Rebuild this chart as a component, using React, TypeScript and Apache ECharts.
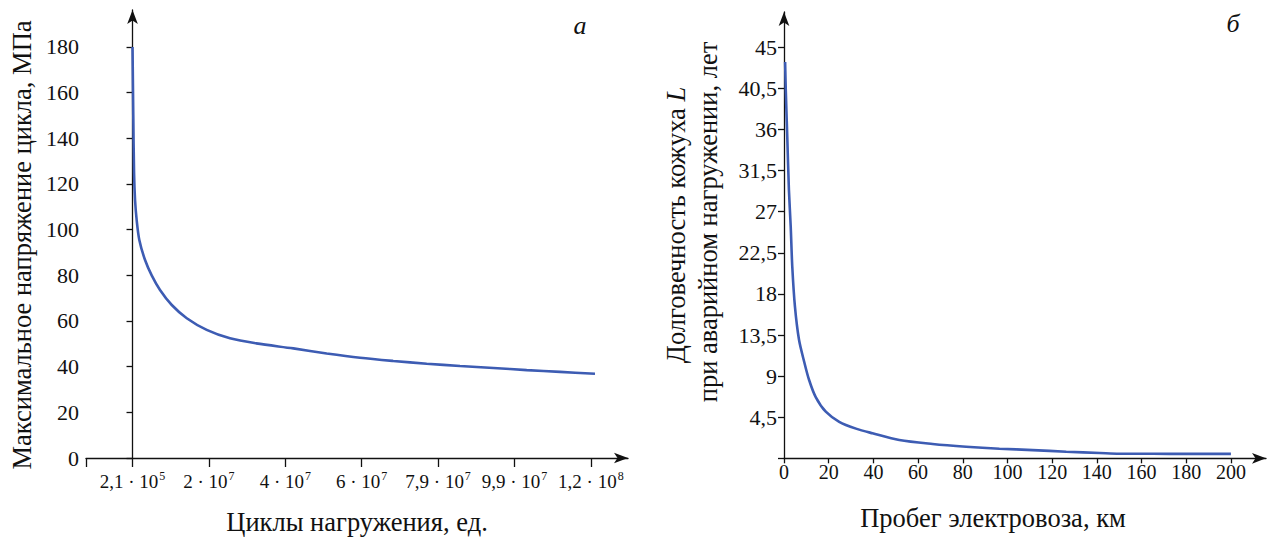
import React, { useEffect, useRef } from 'react';
import * as echarts from 'echarts';

// ---- Chart a: stress vs loading cycles (evenly spaced category positions) ----
const cyclePos = [0, 1, 2, 3, 4, 5, 6];
const cycleMantissa = ['2,1', '2', '4', '6', '7,9', '9,9', '1,2'];
const cycleExp = ['5', '7', '7', '7', '7', '7', '8'];
const stressPos = [0, 0.01, 0.02, 0.033, 0.055, 0.089, 0.164, 0.251, 0.36, 0.514, 0.71, 0.971, 1.276, 1.62, 2.105, 2.542, 2.978, 3.414, 3.851, 4.287, 4.724, 5.16, 5.596, 6.054];
const stressMPa = [180, 150, 125, 113, 104, 95.5, 86.7, 80, 73.6, 67, 61.2, 56.1, 52.4, 50.2, 48.0, 45.8, 43.9, 42.5, 41.3, 40.3, 39.4, 38.5, 37.7, 36.9];
const stressTicks = [0, 20, 40, 60, 80, 100, 120, 140, 160, 180];

// ---- Chart б: casing life vs locomotive mileage ----
const mileageKm = [0.5, 0.8, 1.5, 2.2, 3.0, 3.7, 4.9, 6.7, 9.0, 11.2, 14.2, 18.7, 24.7, 32.2, 39.6, 51.6, 66.5, 81.5, 96.4, 111.3, 126.3, 141.3, 150, 165, 180, 200];
const lifeYears = [43.4, 40.3, 34.9, 29.4, 25.4, 21.0, 16.6, 13.0, 10.6, 8.6, 6.7, 5.1, 4.0, 3.25, 2.74, 2.0, 1.57, 1.27, 1.05, 0.9, 0.72, 0.58, 0.5, 0.5, 0.48, 0.48];
const lifeTicks = [4.5, 9, 13.5, 18, 22.5, 27, 31.5, 36, 40.5, 45];
const mileageTicks = [0, 20, 40, 60, 80, 100, 120, 140, 160, 180, 200];

const FONT = 'Liberation Serif, serif';
const INK = '#111111';
const LINE = '#3d5cb3';

export default function App() {
  const ref = useRef<HTMLDivElement>(null);

  useEffect(() => {
    if (!ref.current) return;
    const chart = echarts.init(ref.current, undefined, { renderer: 'svg' });

    const axisLineStyle = { color: INK, width: 1.3 };
    const txt = (size: number, italic = false) => ({
      fontFamily: FONT, fontSize: size, fontStyle: italic ? 'italic' : 'normal', fill: INK,
      align: 'center', verticalAlign: 'middle',
    });

    const option: any = {
      animation: false,
      backgroundColor: '#ffffff',
      textStyle: { fontFamily: FONT },
      grid: [
        { left: 86, top: 10, width: 542, height: 448, containLabel: false },
        { left: 784, top: 12, width: 482, height: 446.3, containLabel: false },
      ],
      xAxis: [
        {
          type: 'value',
          gridIndex: 0,
          min: -0.609,
          max: 6.486,
          splitLine: { show: false },
          axisLine: { show: true, symbol: ['none', 'arrow'], symbolSize: [8, 14], lineStyle: axisLineStyle },
          axisTick: { show: true, inside: false, length: 9, lineStyle: { color: INK, width: 1.3 }, customValues: [-0.609, ...cyclePos] },
          axisLabel: {
            margin: 12,
            customValues: cyclePos,
            formatter: (v: number) => {
              const i = cyclePos.indexOf(Math.round(v));
              if (i < 0) return '';
              return `{m|${cycleMantissa[i]} · 10}{e|${cycleExp[i]}}`;
            },
            rich: {
              m: { fontFamily: FONT, fontSize: 19, color: INK, lineHeight: 22, verticalAlign: 'middle' },
              e: { fontFamily: FONT, fontSize: 12, color: INK, lineHeight: 12, verticalAlign: 'top', padding: [0, 0, 0, 1] },
            },
          },
        },
        {
          type: 'value',
          gridIndex: 1,
          min: 0,
          max: 215.7,
          splitLine: { show: false },
          axisLine: { show: true, symbol: ['none', 'arrow'], symbolSize: [8, 14], lineStyle: axisLineStyle },
          axisTick: { show: true, length: 5, lineStyle: { color: INK, width: 1.3 }, customValues: mileageTicks },
          axisLabel: {
            margin: 4,
            customValues: mileageTicks,
            fontFamily: FONT,
            fontSize: 20,
            color: INK,
            formatter: (v: number) => String(v),
          },
        },
      ],
      yAxis: [
        {
          type: 'value',
          gridIndex: 0,
          min: 0,
          max: 196.2,
          splitLine: { show: false },
          axisLine: { show: true, symbol: ['none', 'arrow'], symbolSize: [8, 14], lineStyle: axisLineStyle },
          axisTick: { show: true, length: 6, lineStyle: { color: INK, width: 1.3 }, customValues: stressTicks },
          axisLabel: {
            margin: 7,
            customValues: stressTicks,
            fontFamily: FONT,
            fontSize: 22,
            color: INK,
            formatter: (v: number) => String(v),
          },
        },
        {
          type: 'value',
          gridIndex: 1,
          min: 0,
          max: 48.87,
          splitLine: { show: false },
          axisLine: { show: true, symbol: ['none', 'arrow'], symbolSize: [8, 14], lineStyle: axisLineStyle },
          axisTick: { show: true, length: 6, lineStyle: { color: INK, width: 1.3 }, customValues: [0, ...lifeTicks] },
          axisLabel: {
            margin: 7,
            customValues: lifeTicks,
            fontFamily: FONT,
            fontSize: 22,
            color: INK,
            formatter: (v: number) => String(v).replace('.', ','),
          },
        },
      ],
      series: [
        {
          type: 'line',
          xAxisIndex: 0,
          yAxisIndex: 0,
          data: stressPos.map((x, i) => [x, stressMPa[i]]),
          showSymbol: false,
          smooth: 0.3,
          lineStyle: { color: LINE, width: 2.6 },
          z: 3,
        },
        {
          type: 'line',
          xAxisIndex: 1,
          yAxisIndex: 1,
          data: mileageKm.map((x, i) => [x, lifeYears[i]]),
          showSymbol: false,
          smooth: 0.3,
          lineStyle: { color: LINE, width: 2.6 },
          z: 3,
        },
      ],
      graphic: [
        { type: 'text', x: 580, y: 25, style: { text: 'а', ...txt(26, true) } },
        { type: 'text', x: 1233, y: 23, style: { text: 'б', ...txt(26, true) } },
        { type: 'text', x: 357, y: 522, style: { text: 'Циклы нагружения, ед.', ...txt(26.5) } },
        { type: 'text', x: 993, y: 518, style: { text: 'Пробег электровоза, км', ...txt(26.5) } },
        { type: 'text', x: 22, y: 245, rotation: Math.PI / 2, style: { text: 'Максимальное напряжение цикла, МПа', ...txt(26.5) } },
        {
          type: 'text', x: 676, y: 225, rotation: Math.PI / 2,
          style: {
            text: 'Долговечность кожуха {i|L}',
            ...txt(26.5),
            rich: { i: { fontFamily: FONT, fontSize: 26.5, fontStyle: 'italic', fill: INK } },
          },
        },
        { type: 'text', x: 708, y: 222, rotation: Math.PI / 2, style: { text: 'при аварийном нагружении, лет', ...txt(26.5) } },
      ],
    };

    chart.setOption(option);
    return () => chart.dispose();
  }, []);

  return <div ref={ref} style={{ position: 'fixed', left: 0, top: 0, width: 1269, height: 540 }} />;
}
